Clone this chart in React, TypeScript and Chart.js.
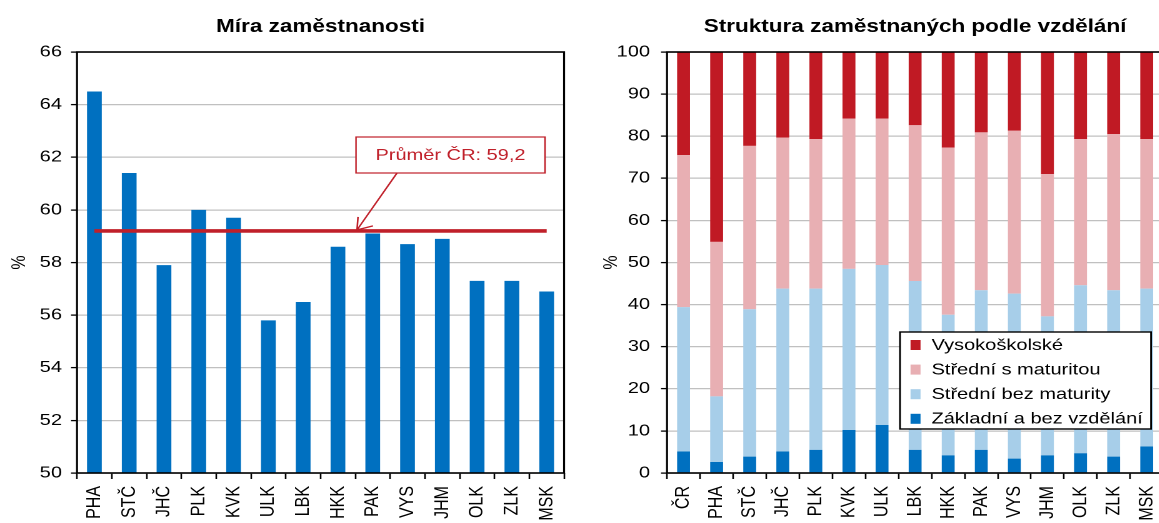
import React, { useEffect, useRef } from 'react';
import { Chart, registerables } from 'chart.js';

Chart.register(...registerables);

// ---------- data ----------
const regions = ['PHA', 'STČ', 'JHČ', 'PLK', 'KVK', 'ULK', 'LBK', 'HKK', 'PAK', 'VYS', 'JHM', 'OLK', 'ZLK', 'MSK'];
const employmentRate = [64.5, 61.4, 57.9, 60.0, 59.7, 55.8, 56.5, 58.6, 59.1, 58.7, 58.9, 57.3, 57.3, 56.9];
const averageCR = [59.2, 59.2, 59.2, 59.2, 59.2, 59.2, 59.2, 59.2, 59.2, 59.2, 59.2, 59.2, 59.2, 59.2];
const averageLabel = 'Průměr ČR: 59,2';
const leftTitle = 'Míra zaměstnanosti';

const eduCategories = ['ČR', 'PHA', 'STČ', 'JHČ', 'PLK', 'KVK', 'ULK', 'LBK', 'HKK', 'PAK', 'VYS', 'JHM', 'OLK', 'ZLK', 'MSK'];
const basicEdu = [5.1, 2.6, 3.9, 5.1, 5.5, 10.2, 11.4, 5.5, 4.2, 5.5, 3.4, 4.2, 4.7, 3.9, 6.3];
const secondaryNoMaturita = [34.3, 15.6, 35.0, 38.7, 38.3, 38.3, 38.0, 40.1, 33.4, 37.9, 39.2, 33.0, 39.9, 39.5, 37.5];
const secondaryMaturita = [36.1, 36.7, 38.8, 35.9, 35.5, 35.7, 34.8, 37.0, 39.7, 37.5, 38.7, 33.8, 34.7, 37.1, 35.5];
const university = [24.5, 45.1, 22.3, 20.3, 20.7, 15.8, 15.8, 17.4, 22.7, 19.1, 18.7, 29.0, 20.7, 19.5, 20.7];
const rightTitle = 'Struktura zaměstnaných podle vzdělání';

// ---------- style ----------
const S = 1.25; // horizontal stretch of the original picture
const FONT = '"Liberation Sans", Arial, Helvetica, sans-serif';
const BLUE = '#0070C0';
const LIGHT_BLUE = '#A7CEE9';
const PINK = '#E8AFB3';
const DARK_RED = '#C01A24';
const LINE_RED = '#C0202A';

Chart.defaults.font.family = FONT;
Chart.defaults.font.size = 16;
Chart.defaults.color = '#000';

const frame = {
  id: 'frame',
  afterDatasetsDraw(chart: any) {
    const { ctx, chartArea: a } = chart;
    ctx.save();
    ctx.strokeStyle = '#000';
    ctx.lineWidth = 1.6;
    ctx.strokeRect(a.left, a.top, a.right - a.left, a.bottom - a.top);
    ctx.restore();
  },
};

const annotation = {
  id: 'annotation',
  afterDraw(chart: any) {
    const { ctx } = chart;
    const yLine = chart.scales.y.getPixelForValue(averageCR[0]);
    ctx.save();
    // box
    const bx = 356 / S, bw = (545 - 356) / S, by = 137, bh = 36;
    ctx.fillStyle = '#fff';
    ctx.fillRect(bx, by, bw, bh);
    ctx.strokeStyle = LINE_RED;
    ctx.lineWidth = 1.2;
    ctx.strokeRect(bx, by, bw, bh);
    ctx.fillStyle = LINE_RED;
    ctx.font = `16px ${FONT}`;
    ctx.textAlign = 'center';
    ctx.textBaseline = 'middle';
    ctx.fillText(averageLabel, bx + bw / 2, by + bh / 2 + 0.5);
    // arrow
    const sx = 397 / S, sy = by + bh;
    const tx = 357 / S, ty = yLine - 1;
    ctx.beginPath();
    ctx.moveTo(sx, sy);
    ctx.lineTo(tx, ty);
    ctx.moveTo(358 / S, ty - 13);
    ctx.lineTo(tx, ty);
    ctx.lineTo(373 / S, ty - 4);
    ctx.lineWidth = 1.3;
    ctx.stroke();
    ctx.restore();
  },
};

const eduLegend = {
  id: 'eduLegend',
  afterDraw(chart: any) {
    const { ctx } = chart;
    const X = (t: number) => (t - 580) / S;
    const items = [...chart.data.datasets].reverse();
    ctx.save();
    const left = X(900), right = X(1151), top = 332, bottom = 429;
    ctx.fillStyle = '#fff';
    ctx.fillRect(left, top, right - left, bottom - top);
    ctx.strokeStyle = '#000';
    ctx.lineWidth = 1.4;
    ctx.strokeRect(left, top, right - left, bottom - top);
    ctx.font = `16px ${FONT}`;
    ctx.textAlign = 'left';
    ctx.textBaseline = 'middle';
    items.forEach((ds: any, i: number) => {
      const cy = 345 + i * 24.6;
      ctx.fillStyle = ds.backgroundColor;
      ctx.fillRect(X(910.5), cy - 5, 10 / S, 10);
      ctx.fillStyle = '#000';
      ctx.fillText(ds.label, X(931.5), cy + 0.5);
    });
    ctx.restore();
  },
};

function baseScales(yWidth: number, yMin: number, yMax: number, step: number, titlePad: number, tickPad: number) {
  return {
    x: {
      type: 'category' as const,
      offset: true,
      stacked: true,
      grid: {
        display: true,
        drawOnChartArea: false,
        drawTicks: true,
        tickLength: 6,
        tickColor: '#000',
        tickWidth: 1.3,
        offset: true,
      },
      border: { display: false },
      ticks: { autoSkip: false, maxRotation: 90, minRotation: 90, padding: 7, color: '#000', font: { size: 16 } },
      afterFit: (s: any) => {
        s.height = 50;
      },
    },
    y: {
      min: yMin,
      max: yMax,
      stacked: true,
      ticks: { stepSize: step, padding: tickPad, color: '#000', font: { size: 16 } },
      grid: { color: '#C0C0C0', lineWidth: 1.2, tickColor: '#000', tickLength: 4.8, tickWidth: 1.3, drawTicks: true },
      border: { display: false },
      title: { display: true, text: '%', color: '#000', font: { size: 16 }, padding: { top: titlePad, bottom: 0 } },
      afterFit: (s: any) => {
        s.width = yWidth;
      },
    },
  };
}

function titleOpts(text: string) {
  return {
    display: true,
    text,
    color: '#000',
    font: { size: 18, weight: 'bold' as const, family: FONT },
    padding: { top: 16, bottom: 14.4 },
    fullSize: false,
  };
}

export default function App() {
  const leftRef = useRef<HTMLCanvasElement>(null);
  const rightRef = useRef<HTMLCanvasElement>(null);

  useEffect(() => {
    const leftScales: any = baseScales(61.6, 50, 66, 2, 6, 7.2);
    leftScales.x.stacked = false;
    leftScales.y.stacked = false;
    const left = new Chart(leftRef.current as HTMLCanvasElement, {
      type: 'bar',
      data: {
        labels: regions,
        datasets: [
          {
            type: 'line' as const,
            label: averageLabel,
            data: averageCR,
            borderColor: LINE_RED,
            borderWidth: 3.6,
            pointRadius: 0,
            fill: false,
            order: 0,
          } as any,
          {
            type: 'bar' as const,
            label: leftTitle,
            data: employmentRate,
            backgroundColor: BLUE,
            barPercentage: 0.424,
            categoryPercentage: 1,
            order: 1,
          },
        ],
      },
      options: {
        animation: false,
        responsive: true,
        maintainAspectRatio: false,
        devicePixelRatio: 2,
        layout: { padding: { left: 0, right: 464 - 457.6, top: 0, bottom: 0 } },
        scales: leftScales,
        plugins: {
          legend: { display: false },
          tooltip: { enabled: false },
          title: titleOpts(leftTitle),
        },
      },
      plugins: [frame, annotation],
    });

    const right = new Chart(rightRef.current as HTMLCanvasElement, {
      type: 'bar',
      data: {
        labels: eduCategories,
        datasets: [
          { label: 'Základní a bez vzdělání', data: basicEdu, backgroundColor: BLUE },
          { label: 'Střední bez maturity', data: secondaryNoMaturita, backgroundColor: LIGHT_BLUE },
          { label: 'Střední s maturitou', data: secondaryMaturita, backgroundColor: PINK },
          { label: 'Vysokoškolské', data: university, backgroundColor: DARK_RED },
        ].map((d) => ({ ...d, barPercentage: 0.39, categoryPercentage: 1 })),
      },
      options: {
        animation: false,
        responsive: true,
        maintainAspectRatio: false,
        devicePixelRatio: 2,
        layout: { padding: { left: 0, right: 480 - 470.4, top: 0, bottom: 0 } },
        scales: baseScales(69.6, 0, 100, 10, 15.6, 8.8) as any,
        plugins: {
          legend: { display: false },
          tooltip: { enabled: false },
          title: titleOpts(rightTitle),
        },
      },
      plugins: [frame, eduLegend],
    });

    return () => {
      left.destroy();
      right.destroy();
    };
  }, []);

  return (
    <div style={{ position: 'absolute', left: 0, top: 0, width: 1159, height: 523, overflow: 'hidden', background: '#fff' }}>
      <div
        style={{
          position: 'absolute',
          left: 0,
          top: 0,
          width: 464,
          height: 523,
          transform: `scaleX(${S})`,
          transformOrigin: '0 0',
        }}
      >
        <canvas ref={leftRef} />
      </div>
      <div
        style={{
          position: 'absolute',
          left: 580,
          top: 0,
          width: 480,
          height: 523,
          transform: `scaleX(${S})`,
          transformOrigin: '0 0',
        }}
      >
        <canvas ref={rightRef} />
      </div>
    </div>
  );
}
